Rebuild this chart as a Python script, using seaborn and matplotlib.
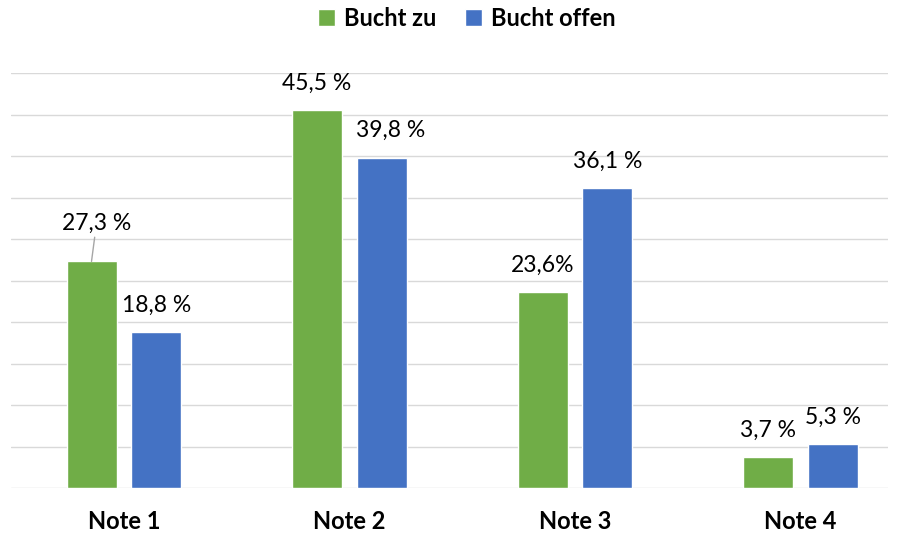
import numpy as np
import pandas as pd
import matplotlib.pyplot as plt
import seaborn as sns

# Daten
categories = ["Note 1", "Note 2", "Note 3", "Note 4"]
series = ["Bucht zu", "Bucht offen"]
bucht_zu = [27.3, 45.5, 23.6, 3.7]
bucht_offen = [18.8, 39.8, 36.1, 5.3]
labels_zu = ["27,3 %", "45,5 %", "23,6%", "3,7 %"]
labels_offen = ["18,8 %", "39,8 %", "36,1 %", "5,3 %"]
colors = ["#70AD47", "#4472C4"]

df = pd.DataFrame({
    "Note": categories * 2,
    "Serie": [series[0]] * len(categories) + [series[1]] * len(categories),
    "Wert": bucht_zu + bucht_offen,
})

sns.set_style("white")
plt.rcParams["font.family"] = ["Lato", "DejaVu Sans"]
plt.rcParams["text.color"] = "black"
plt.rcParams["xtick.color"] = "black"

fig = plt.figure(figsize=(9.01, 5.33), dpi=100)
ax = fig.add_axes([11 / 901, 45 / 533, 877 / 901, 415 / 533])
sns.barplot(data=df, x="Note", y="Wert", hue="Serie", palette=colors,
            width=0.576, gap=0.23, ax=ax, saturation=1)

# Achsen / Gitter
ax.set_ylim(0, 50)
ax.set_xlim(-0.501, 3.388)
ax.set_yticks(np.arange(0, 51, 5))
ax.set_yticklabels([])
ax.yaxis.grid(True, color="#D9D9D9", linewidth=1)
ax.set_axisbelow(True)
for s in ax.spines.values():
    s.set_visible(False)
ax.tick_params(axis="both", length=0)
ax.tick_params(axis="x", pad=16)
ax.set_xticks(range(len(categories)))
ax.set_xticklabels(categories, fontsize=17, fontweight="bold")
ax.set_xlabel("")
ax.set_ylabel("")

# Beschriftungen
all_labels = [labels_zu, labels_offen]
for i, cont in enumerate(ax.containers):
    for j, bar in enumerate(cont):
        x = bar.get_x() + bar.get_width() / 2
        y = bar.get_height()
        txt = all_labels[i][j]
        if i == 0 and j == 0:
            ax.annotate(txt, (x, y), xytext=(5, 38), textcoords="offset pixels",
                        ha="center", va="center", fontsize=16.5,
                        arrowprops=dict(arrowstyle="-", color="#A6A6A6", lw=1,
                                        shrinkA=0, shrinkB=0))
        else:
            dx = 9 if (i == 1 and j == 1) else 0
            ax.annotate(txt, (x, y), xytext=(dx, 27), textcoords="offset pixels",
                        ha="center", va="center", fontsize=16.5)

# Legende
handles, labels = ax.get_legend_handles_labels()
ax.get_legend().remove()
fig.legend(handles, labels, loc="center", bbox_to_anchor=(467 / 901, 1 - 18 / 533),
           ncol=2, frameon=False, prop={"weight": "bold", "size": 17},
           handlelength=0.7, handleheight=0.7, columnspacing=1.2, handletextpad=0.4)

fig.savefig("out.png", dpi=100)
